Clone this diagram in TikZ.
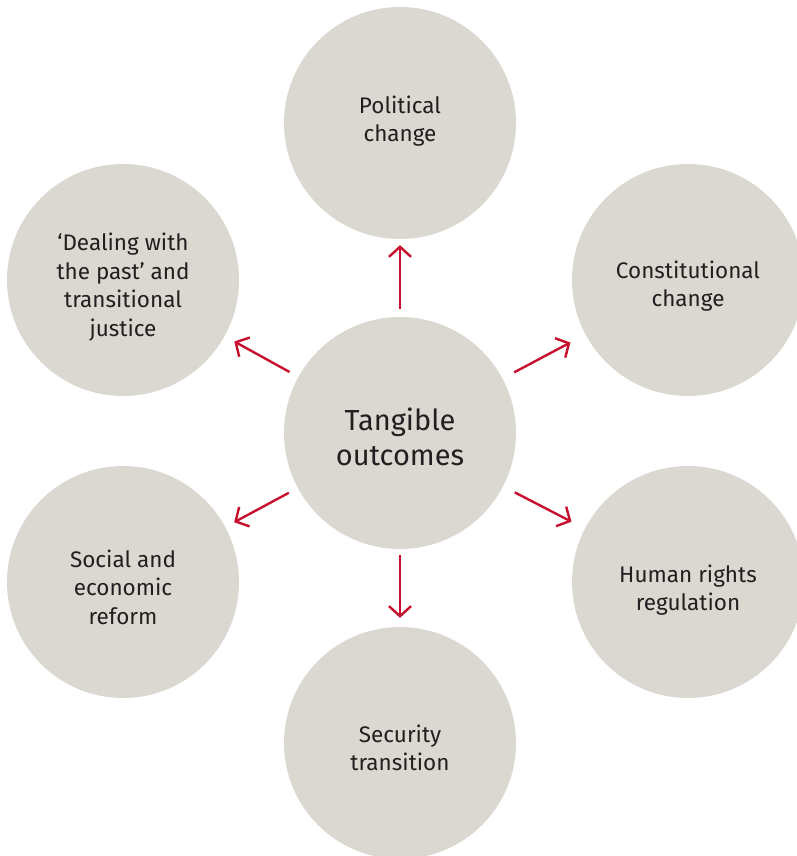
\documentclass[tikz,border=0pt]{standalone}
\usepackage{fontspec}
\setmainfont{Fira Sans}
\usetikzlibrary{arrows.meta}

\definecolor{stone}{RGB}{218,216,208}
\definecolor{arrowred}{RGB}{200,16,46}
\definecolor{inkdark}{RGB}{35,31,32}

\tikzset{
  outcome/.style={circle,fill=stone,minimum size=232pt,inner sep=0pt},
  caption/.style={align=center,text=inkdark,inner sep=0pt,
    font=\fontsize{22.5pt}{28.5pt}\selectfont},
  hubcaption/.style={caption,font=\fontsize{29pt}{35pt}\selectfont},
  spoke/.style={arrowred,line width=2.4pt,-{Straight Barb[length=10pt,width=22pt]}}
}

\begin{document}
\begin{tikzpicture}[x=1pt,y=-1pt]
\useasboundingbox (0,0) rectangle (797,856);

\node[outcome,label={[hubcaption,yshift=-4pt]center:Tangible\\outcomes}] (outcomes) at (400,433) {};
\node[outcome,label={[caption,yshift=2pt]center:Political\\change}] (political) at (400,123) {};
\node[outcome,label={[caption,yshift=-6pt]center:Constitutional\\change}] (constitution) at (688,280) {};
\node[outcome,label={[caption,yshift=-7pt]center:‘Dealing with\\the past’ and\\transitional\\justice}] (past) at (123,280) {};
\node[outcome,label={[caption,yshift=-5pt]center:Social and\\economic\\reform}] (social) at (123,582) {};
\node[outcome,label={[caption,yshift=-8pt]center:Human rights\\regulation}] (rights) at (688,582) {};
\node[outcome,label={[caption,yshift=-5pt]center:Security\\transition}] (security) at (400,743) {};

\draw[spoke,shorten <=8pt,shorten >=6pt] (outcomes) -- (political);
\draw[spoke,shorten <=13pt,shorten >=17pt] (outcomes) -- (constitution);
\draw[spoke,shorten <=10pt,shorten >=11pt] (outcomes) -- (past);
\draw[spoke,shorten <=10pt,shorten >=10pt] (outcomes) -- (social);
\draw[spoke,shorten <=13pt,shorten >=15pt] (outcomes) -- (rights);
\draw[spoke,shorten <=6pt,shorten >=9pt] (outcomes) -- (security);
\end{tikzpicture}
\end{document}
